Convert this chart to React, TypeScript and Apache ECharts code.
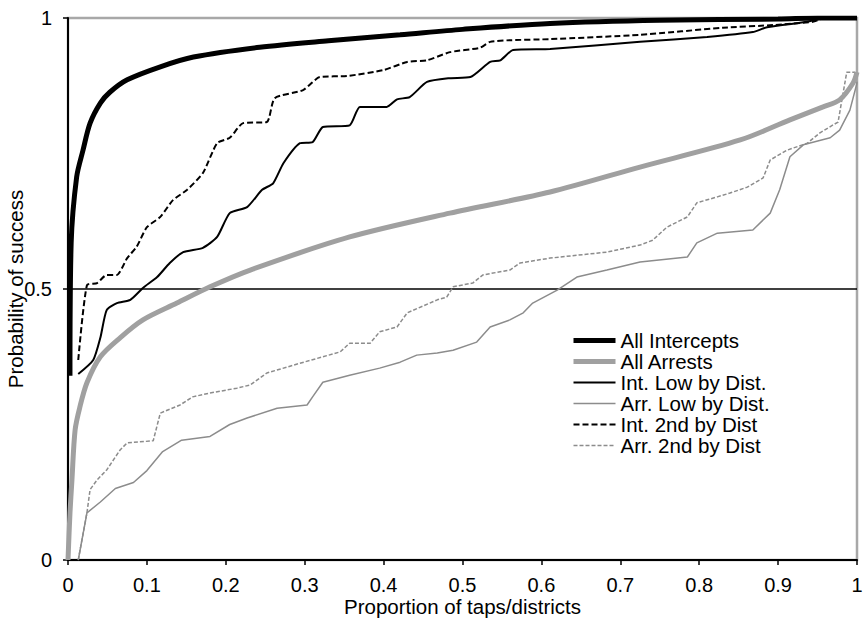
import React, { useEffect, useRef } from "react";
import * as echarts from "echarts";

const xTicks = [0, 0.1, 0.2, 0.3, 0.4, 0.5, 0.6, 0.7, 0.8, 0.9, 1];
const yTicks = [0, 0.5, 1];

const allIntercepts: [number, number][] = [
  [0.0025, 0.34], [0.004, 0.585], [0.011, 0.707], [0.019, 0.756], [0.028, 0.806],
  [0.041, 0.843], [0.053, 0.863], [0.075, 0.886], [0.117, 0.91], [0.159, 0.928],
  [0.243, 0.946], [0.33, 0.958], [0.421, 0.969], [0.5, 0.979], [0.611, 0.99],
  [0.75, 0.996], [0.9, 0.998], [0.95, 1], [1, 1],
];

const allArrests: [number, number][] = [
  [0, 0], [0.0025, 0.087], [0.005, 0.148], [0.009, 0.24], [0.015, 0.282],
  [0.024, 0.327], [0.041, 0.375], [0.066, 0.41], [0.095, 0.443], [0.138, 0.474],
  [0.18, 0.504], [0.231, 0.535], [0.357, 0.596], [0.484, 0.64], [0.611, 0.679],
  [0.725, 0.725], [0.852, 0.775], [0.915, 0.812], [0.957, 0.836], [0.978, 0.849],
  [0.995, 0.88], [1, 0.9],
];

const intLow: [number, number][] = [
  [0.013, 0.343], [0.032, 0.369], [0.041, 0.41], [0.049, 0.461], [0.062, 0.474],
  [0.079, 0.48], [0.095, 0.502], [0.113, 0.522], [0.129, 0.548], [0.146, 0.568],
  [0.171, 0.576], [0.189, 0.596], [0.205, 0.64], [0.227, 0.651], [0.246, 0.683],
  [0.26, 0.695], [0.273, 0.732], [0.294, 0.769], [0.31, 0.771], [0.323, 0.799],
  [0.357, 0.802], [0.37, 0.836], [0.404, 0.836], [0.417, 0.85], [0.433, 0.854],
  [0.455, 0.882], [0.484, 0.889], [0.51, 0.891], [0.535, 0.919], [0.548, 0.922],
  [0.564, 0.941], [0.611, 0.943], [0.725, 0.956], [0.81, 0.965], [0.868, 0.974],
  [0.886, 0.983], [0.937, 0.993], [0.96, 1], [1, 1],
];

const int2nd: [number, number][] = [
  [0.013, 0.369], [0.024, 0.507], [0.037, 0.511], [0.049, 0.526], [0.062, 0.526],
  [0.075, 0.557], [0.087, 0.578], [0.1, 0.614], [0.117, 0.633], [0.133, 0.664],
  [0.151, 0.683], [0.171, 0.714], [0.189, 0.769], [0.205, 0.779], [0.222, 0.806],
  [0.252, 0.808], [0.262, 0.852], [0.298, 0.867], [0.319, 0.891], [0.354, 0.893],
  [0.4, 0.904], [0.43, 0.919], [0.455, 0.922], [0.484, 0.937], [0.522, 0.945],
  [0.535, 0.956], [0.56, 0.959], [0.611, 0.961], [0.725, 0.969], [0.83, 0.982],
  [0.894, 0.987], [0.944, 0.993], [0.96, 1], [1, 1],
];

const arrLow: [number, number][] = [
  [0.013, 0], [0.024, 0.087], [0.041, 0.107], [0.06, 0.132], [0.083, 0.143],
  [0.1, 0.165], [0.12, 0.2], [0.144, 0.221], [0.18, 0.228], [0.205, 0.25],
  [0.227, 0.262], [0.265, 0.28], [0.303, 0.286], [0.31, 0.301], [0.323, 0.328],
  [0.357, 0.341], [0.395, 0.354], [0.421, 0.365], [0.442, 0.378], [0.468, 0.382],
  [0.488, 0.387], [0.518, 0.402], [0.535, 0.43], [0.56, 0.443], [0.577, 0.456],
  [0.589, 0.474], [0.62, 0.498], [0.645, 0.522], [0.683, 0.535], [0.725, 0.55],
  [0.785, 0.559], [0.797, 0.585], [0.823, 0.603], [0.868, 0.609], [0.89, 0.64],
  [0.902, 0.683], [0.915, 0.744], [0.932, 0.766], [0.966, 0.779], [0.978, 0.793],
  [0.991, 0.83], [1, 0.88],
];

const arr2nd: [number, number][] = [
  [0.013, 0], [0.024, 0.087], [0.028, 0.13], [0.037, 0.148], [0.049, 0.166],
  [0.066, 0.203], [0.075, 0.216], [0.108, 0.22], [0.117, 0.271], [0.142, 0.286],
  [0.158, 0.301], [0.18, 0.308], [0.214, 0.317], [0.231, 0.323], [0.252, 0.345],
  [0.294, 0.363], [0.345, 0.384], [0.357, 0.4], [0.383, 0.4], [0.395, 0.421],
  [0.417, 0.43], [0.43, 0.456], [0.468, 0.48], [0.48, 0.485], [0.488, 0.504],
  [0.513, 0.511], [0.526, 0.526], [0.56, 0.535], [0.573, 0.548], [0.611, 0.557],
  [0.683, 0.568], [0.725, 0.581], [0.741, 0.59], [0.759, 0.614], [0.785, 0.633],
  [0.797, 0.659], [0.823, 0.67], [0.839, 0.677], [0.861, 0.688], [0.881, 0.705],
  [0.89, 0.738], [0.911, 0.756], [0.937, 0.769], [0.953, 0.788], [0.97, 0.803],
  [0.976, 0.808], [0.987, 0.9], [0.997, 0.9], [1, 0.88],
];

const halfLine: [number, number][] = [[0, 0.5], [1, 0.5]];

const FONT = "'Liberation Sans', Arial, Helvetica, sans-serif";

export default function App() {
  const ref = useRef<HTMLDivElement>(null);
  useEffect(() => {
    if (!ref.current) return;
    const chart = echarts.init(ref.current, undefined, { renderer: "svg" });
    const line = (name: string, data: [number, number][], color: string, width: number, type: any, smooth: number | boolean) => ({
      name,
      type: "line",
      data,
      showSymbol: false,
      symbol: "none",
      smooth,
      lineStyle: { color, width, type },
      itemStyle: { color },
      z: 3,
    });
    chart.setOption({
      animation: false,
      textStyle: { fontFamily: FONT },
      grid: {
        left: 68, right: 7, top: 18, bottom: 58,
        containLabel: false,
        outerBoundsMode: "none",
        show: true, borderColor: "#a8a8a8", borderWidth: 2.5, backgroundColor: "transparent",
      },
      legend: {
        orient: "vertical",
        left: 566,
        top: 325,
        itemWidth: 42,
        itemHeight: 10,
        itemGap: 0,
        itemStyle: { opacity: 0 },
        data: [
          { name: "All Intercepts", lineStyle: { width: 5, color: "#000" } },
          { name: "All Arrests", lineStyle: { width: 5, color: "#a0a0a0" } },
          { name: "Int. Low by Dist.", lineStyle: { width: 2, color: "#000" } },
          { name: "Arr. Low by Dist.", lineStyle: { width: 1.5, color: "#8c8c8c" } },
          { name: "Int. 2nd by Dist", lineStyle: { width: 2, color: "#000" } },
          { name: "Arr. 2nd by Dist", lineStyle: { width: 1.5, color: "#8c8c8c" } },
        ],
        textStyle: { fontFamily: FONT, fontSize: 20.5, color: "#000", lineHeight: 21 },
        selectedMode: false,
      },
      xAxis: {
        type: "value",
        min: 0, max: 1, interval: 0.1,
        name: "Proportion of taps/districts",
        nameLocation: "middle",
        nameGap: 36,
        nameMoveOverlap: false,
        nameTextStyle: { fontFamily: FONT, fontSize: 20.5, color: "#000", verticalAlign: "top", lineHeight: 20 },
        axisLine: { show: true, lineStyle: { color: "#000", width: 2 } },
        axisTick: { show: true, length: 5, inside: false, lineStyle: { color: "#000", width: 1.5 } },
        axisLabel: {
          fontFamily: FONT, fontSize: 20, color: "#000", margin: 15, lineHeight: 19,
          formatter: (v: number) => (xTicks.includes(Math.round(v * 10) / 10) ? String(Math.round(v * 10) / 10) : ""),
        },
        splitLine: { show: false },
      },
      yAxis: {
        type: "value",
        min: 0, max: 1, interval: 0.5,
        name: "Probability of success",
        nameLocation: "middle",
        nameGap: 42,
        nameMoveOverlap: false,
        nameTextStyle: { fontFamily: FONT, fontSize: 20.5, color: "#000" },
        axisLine: { show: true, lineStyle: { color: "#000", width: 2 } },
        axisTick: { show: true, length: 5, inside: false, lineStyle: { color: "#000", width: 1.5 } },
        axisLabel: {
          fontFamily: FONT, fontSize: 20, color: "#000", margin: 16,
          formatter: (v: number) => (yTicks.includes(v) ? String(v) : ""),
        },
        splitLine: { show: false },
      },
      series: [
        { name: "half", type: "line", data: halfLine, showSymbol: false, symbol: "none", lineStyle: { color: "#000", width: 1.5 }, z: 2, silent: true },
        line("Arr. 2nd by Dist", arr2nd, "#8c8c8c", 1.5, [4, 2], false),
        line("Arr. Low by Dist.", arrLow, "#8c8c8c", 1.5, "solid", false),
        line("All Arrests", allArrests, "#a0a0a0", 5, "solid", 0.3),
        line("Int. 2nd by Dist", int2nd, "#000", 2, [6, 3], 0.2),
        line("Int. Low by Dist.", intLow, "#000", 2, "solid", 0.2),
        line("All Intercepts", allIntercepts, "#000", 5, "solid", 0.3),
      ],
    });
    return () => chart.dispose();
  }, []);
  return <div ref={ref} style={{ width: 864, height: 618, position: "absolute", left: 0, top: 0 }} />;
}
